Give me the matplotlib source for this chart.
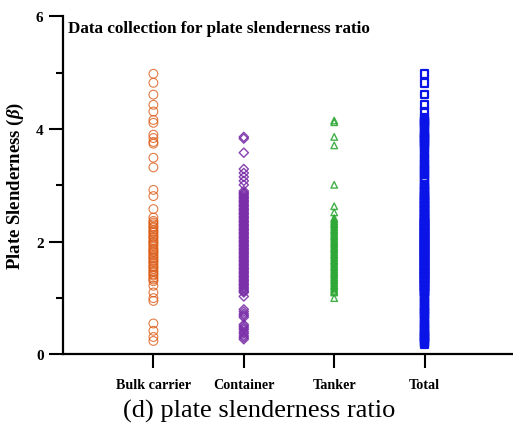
import numpy as np
import matplotlib.pyplot as plt

plt.rcParams['font.family'] = ['Liberation Serif', 'DejaVu Serif']
plt.rcParams['mathtext.fontset'] = 'custom'
plt.rcParams['mathtext.it'] = 'Liberation Serif:bold:italic'
plt.rcParams['mathtext.rm'] = 'Liberation Serif:bold'

categories = ['Bulk carrier', 'Container', 'Tanker', 'Total']

# plate slenderness values per ship type
bulk = [4.98, 4.82, 4.61, 4.43, 4.31, 4.16, 4.11, 3.90, 3.84, 3.77, 3.74, 3.49, 3.32,
        2.92, 2.81, 2.58, 2.43,
        2.37, 2.34, 2.31, 2.27, 2.25, 2.21, 2.18, 2.16, 2.12, 2.09, 2.07, 2.03, 2.00,
        1.98, 1.95, 1.92, 1.88, 1.86, 1.83, 1.81, 1.78, 1.75, 1.72, 1.70, 1.66, 1.64,
        1.61, 1.57, 1.55, 1.52, 1.48, 1.46, 1.42, 1.40, 1.36, 1.33, 1.30,
        1.22, 1.10, 1.00, 0.95, 0.55, 0.42, 0.31, 0.24]

container = [3.86, 3.83, 3.58, 3.29, 3.22, 3.15, 3.08, 3.01, 2.90,
             2.87, 2.85, 2.83, 2.80, 2.78, 2.76, 2.73, 2.71, 2.69, 2.66, 2.64, 2.62,
             2.59, 2.57, 2.55, 2.52, 2.50, 2.48, 2.45, 2.43, 2.41, 2.38, 2.36, 2.34,
             2.31, 2.29, 2.27, 2.24, 2.22, 2.20, 2.17, 2.15, 2.13, 2.10, 2.08, 2.06,
             2.03, 2.01, 1.99, 1.96, 1.94, 1.92, 1.89, 1.87, 1.85, 1.82, 1.80, 1.78,
             1.75, 1.73, 1.71, 1.68, 1.66, 1.64, 1.61, 1.59, 1.57, 1.54, 1.52, 1.50,
             1.47, 1.45, 1.43, 1.40, 1.38, 1.36, 1.33, 1.31, 1.29, 1.26, 1.24, 1.22,
             1.19, 1.17, 1.14, 1.12, 1.10, 1.03,
             0.80, 0.76, 0.72, 0.69, 0.66, 0.53, 0.50, 0.47, 0.44, 0.40, 0.37, 0.33,
             0.30, 0.27]

tanker = [4.15, 4.12, 3.86, 3.71, 3.01, 2.63, 2.52, 2.42,
          2.39, 2.36, 2.33, 2.31, 2.28, 2.25, 2.22, 2.20, 2.17, 2.14, 2.11, 2.09,
          2.06, 2.03, 2.00, 1.98, 1.95, 1.92, 1.89, 1.87, 1.84, 1.81, 1.78, 1.76,
          1.73, 1.70, 1.67, 1.65, 1.62, 1.59, 1.56, 1.54, 1.51, 1.48, 1.45, 1.43,
          1.40, 1.37, 1.34, 1.32, 1.29, 1.26, 1.23, 1.21, 1.18, 1.15, 1.12, 1.10,
          1.00]

# remaining vessels that only enter the total
other = [4.20, 4.08, 4.05, 4.02, 3.96, 3.93, 3.80, 3.70, 3.66, 3.55, 3.45, 3.40,
         3.36, 3.26, 3.19, 3.12, 2.98, 2.95, 2.75, 2.70, 2.66, 2.55, 2.48,
         0.92, 0.89, 0.86, 0.83, 0.78, 0.74, 0.62, 0.58, 0.35, 0.29, 0.22, 0.20, 0.18]

total = bulk + container + tanker + other

series = [bulk, container, tanker, total]
colors = ['#dc5a14', '#7a2fa8', '#2ea836', '#0a14e6']
markers = ['o', 'D', '^', 's']
sizes = [40, 22, 22, 30]
widths = [0.8, 1.0, 1.0, 1.6]
alphas = [0.8, 0.9, 0.9, 1.0]

fig = plt.figure(figsize=(5.13, 4.27), dpi=100)
ax = fig.add_axes([63 / 513, 0.1675, 452 / 513, 0.792])

for i, vals in enumerate(series):
    ax.scatter(np.full(len(vals), i + 1), vals, marker=markers[i], s=sizes[i],
               facecolors='none', edgecolors=colors[i], linewidths=widths[i],
               alpha=alphas[i], clip_on=False, zorder=3)

ax.set_xlim(0, 5)
ax.set_ylim(0, 6)
ax.set_xticks(range(1, 5))
ax.set_xticklabels(categories, fontsize=10.2, fontweight='bold')
ax.set_yticks([0, 2, 4, 6])
ax.set_yticks([1, 3, 5], minor=True)
ax.set_yticklabels(['0', '2', '4', '6'], fontsize=11, fontweight='bold')
ax.tick_params(axis='y', which='major', length=10, width=1.5, pad=4)
ax.tick_params(axis='y', which='minor', length=5, width=1.5)
ax.tick_params(axis='x', length=10, width=1.5, pad=7)

for side in ['top', 'right']:
    ax.spines[side].set_visible(False)
for side in ['left', 'bottom']:
    ax.spines[side].set_linewidth(1.6)

ax.set_ylabel(r'Plate Slenderness ($\beta$)', fontsize=13.5, fontweight='bold', labelpad=7)
ax.text(0.012, 0.965, 'Data collection for plate slenderness ratio', transform=ax.transAxes,
        fontsize=12.3, fontweight='bold', va='center', ha='left')

fig.text(0.505, 0.037, '(d) plate slenderness ratio', fontsize=19, ha='center', va='center')

fig.savefig('out.png', dpi=100)
